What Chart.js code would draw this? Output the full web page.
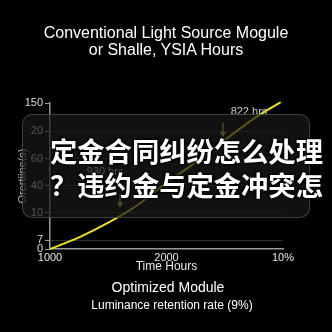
<!DOCTYPE html>
<html>
<head>
<meta charset="utf-8">
<script src="https://cdn.jsdelivr.net/npm/chart.js@4"></script>
<style>
html, body { margin: 0; padding: 0; background: #000; width: 332px; height: 332px; overflow: hidden; }
#wrap { position: relative; width: 332px; height: 332px; font-family: "Liberation Sans", Arial, sans-serif; color: #fff; }
canvas { position: absolute; left: 0; top: 0; }
.t { position: absolute; left: 0; width: 332px; text-align: center; white-space: nowrap; }
#title1 { top: 24px; font-size: 16px; }
#title2 { top: 41px; font-size: 16px; }
#sub1 { top: 279px; font-size: 14px; left: 2px; }
#sub2 { top: 298px; font-size: 12px; left: 6px; }
#box {
  position: absolute; left: 22px; top: 114px; width: 288px; height: 104px;
  border-radius: 10px; background: rgba(24, 24, 24, 0.7);
  box-shadow: inset 0 0 0 1px rgba(95, 95, 95, 0.6);
}
#cn {
  position: absolute; left: 50px; top: 133px; white-space: nowrap;
  font-family: "Noto Sans CJK SC", sans-serif; font-weight: 700;
  font-size: 27.3px; line-height: 34px; color: #fff;
  text-shadow: 0 0 2px #000, 1px 1px 2px #000, -1px -1px 2px #000;
}
</style>
</head>
<body>
<div id="wrap">
  <canvas id="chart" width="332" height="332"></canvas>
  <div class="t" id="title1">Conventional Light Source Mogule</div>
  <div class="t" id="title2">or Shalle, YSIA Hours</div>
  <div class="t" id="sub1">Optimized Module</div>
  <div class="t" id="sub2">Luminance retention rate (9%)</div>
  <div id="box"></div>
  <div id="cn">定金合同纠纷怎么处理<br>？违约金与定金冲突怎</div>
</div>
<script>
// values
const hours = [1000, 1250, 1500, 1750, 2000, 2250, 2500, 2750, 2980];
const retention = [0, 12, 27, 45, 68, 89, 112, 134, 151];

const xTickValues = [1000, 2000, 3000];
const xTickLabels = ['1000', '2000', '10%'];
const yTickValues = [0, 9, 37, 65, 93, 121, 150];
const yTickLabels = ['0', '7', '10', '40', '60', '20', '150'];

const noteLabels = ['822 hrs', '930 hrs'];
const noteTextX = [2708, 1472];
const noteTextY = [141, 79];
const noteArrowX = [2485, 1601];
const noteArrowFrom = [130, 57];
const noteArrowTo = [115, 43];

Chart.defaults.font.family = '"Liberation Sans", Arial, sans-serif';

const notesPlugin = {
  id: 'notes',
  afterDatasetsDraw(chart) {
    const { ctx, scales: { x, y } } = chart;
    ctx.save();
    for (let i = 0; i < noteLabels.length; i++) {
      ctx.fillStyle = '#c8c8c8';
      ctx.font = '11px "Liberation Sans", Arial, sans-serif';
      ctx.textAlign = 'center';
      ctx.textBaseline = 'middle';
      ctx.fillText(noteLabels[i], x.getPixelForValue(noteTextX[i]), y.getPixelForValue(noteTextY[i]));

      const ax = x.getPixelForValue(noteArrowX[i]);
      const y1 = y.getPixelForValue(noteArrowFrom[i]);
      const y2 = y.getPixelForValue(noteArrowTo[i]);
      ctx.strokeStyle = '#d6cc2a';
      ctx.fillStyle = '#d6cc2a';
      ctx.lineWidth = 1.3;
      ctx.beginPath();
      ctx.moveTo(ax, y1);
      ctx.lineTo(ax, y2 - 4);
      ctx.stroke();
      ctx.beginPath();
      ctx.moveTo(ax - 3, y2 - 5);
      ctx.lineTo(ax + 3, y2 - 5);
      ctx.lineTo(ax, y2);
      ctx.closePath();
      ctx.fill();
    }
    ctx.restore();
  }
};

new Chart(document.getElementById('chart'), {
  type: 'line',
  data: {
    datasets: [{
      data: hours.map((h, i) => ({ x: h, y: retention[i] })),
      borderColor: '#e8e21c',
      borderWidth: 2,
      pointRadius: 0,
      tension: 0.3,
      clip: false
    }]
  },
  options: {
    responsive: false,
    animation: false,
    layout: { padding: { left: 0, right: 49, top: 103, bottom: 58 } },
    plugins: { legend: { display: false }, tooltip: { enabled: false } },
    scales: {
      x: {
        type: 'linear',
        min: 1000,
        max: 3000,
        afterBuildTicks: s => { s.ticks = xTickValues.map(v => ({ value: v })); },
        afterFit: s => { s.height = 25; },
        grid: { display: false, drawTicks: false },
        border: { color: '#9a9a9a', width: 1.5 },
        ticks: {
          color: '#e6e6e6', font: { size: 11 }, padding: 2, autoSkip: false, maxRotation: 0,
          callback: (v, i) => xTickLabels[i]
        },
        title: { display: true, text: 'Time Hours', color: '#ececec', font: { size: 12 }, padding: { top: 0, bottom: 0 } }
      },
      y: {
        min: 0,
        max: 150,
        afterBuildTicks: s => { s.ticks = yTickValues.map(v => ({ value: v })); },
        afterFit: s => { s.width = 50; },
        grid: {
          color: c => (c.tick.value === 0 || c.tick.value === 150) ? 'rgba(0,0,0,0)' : '#2e2e2e',
          tickColor: '#9a9a9a',
          tickLength: 5
        },
        border: { color: '#9a9a9a', width: 1.5 },
        ticks: {
          color: '#dcdcdc', font: { size: 11 }, padding: 2, autoSkip: false,
          callback: (v, i) => yTickLabels[i]
        },
        title: { display: true, text: 'Orertiine(s)', color: '#bdbdbd', font: { size: 11 }, padding: { top: 16, bottom: 0 } }
      }
    }
  },
  plugins: [notesPlugin]
});
</script>
</body>
</html>
